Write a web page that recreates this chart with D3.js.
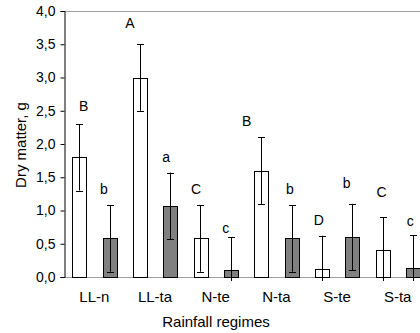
<!DOCTYPE html>
<html>
<head>
<meta charset="utf-8">
<script src="https://cdn.jsdelivr.net/npm/d3@7"></script>
<style>
  body { margin: 0; background: #fff; }
  svg { display: block; font-family: Arial, 'Liberation Sans', sans-serif; }
</style>
</head>
<body>
<div id="chart"></div>
<script>
const width = 420;
const height = 333;

// Values
const regimes = ['LL-n', 'LL-ta', 'N-te', 'N-ta', 'S-te', 'S-ta'];
const series = ['white', 'dark'];
const whiteValues = [1.8, 3.0, 0.58, 1.6, 0.12, 0.4];
const darkValues = [0.58, 1.07, 0.1, 0.58, 0.6, 0.13];
const whiteErrors = [0.5, 0.5, 0.5, 0.5, 0.5, 0.5];
const darkErrors = [0.5, 0.5, 0.5, 0.5, 0.5, 0.5];
const whiteLetters = ['B', 'A', 'C', 'B', 'D', 'C'];
const darkLetters = ['b', 'a', 'c', 'b', 'b', 'c'];
const yTicks = [0, 0.5, 1, 1.5, 2, 2.5, 3, 3.5, 4];

// Where each significance letter sits (data units) and its nudge off the bar centre
const whiteLetterAt = [2.5, 3.75, 1.25, 2.27, 0.78, 1.2];
const darkLetterAt = [1.25, 1.73, 0.66, 1.25, 1.34, 0.77];
const whiteLetterDx = [4.5, -10, -4.5, -14.5, -3, -1];
const darkLetterDx = [-5.5, -4, -5, -1.5, -5.5, -2.5];

const fills = { white: '#ffffff', dark: '#808080' };
const axisGray = '#a0a0a0';

const margin = { top: 11, left: 64, bottom: 277 };
const plotRight = 428; // plot area runs past the window edge

const x = d3.scaleBand().domain(regimes).range([margin.left, plotRight]);
const xSub = d3
  .scaleBand()
  .domain(series)
  .range([0, x.bandwidth()])
  .paddingInner(0.554)
  .paddingOuter(0.277);
const y = d3.scaleLinear().domain([0, 4]).range([margin.bottom, margin.top]);

const rows = [];
regimes.forEach((r, i) => {
  rows.push({ regime: r, s: 'white', v: whiteValues[i], e: whiteErrors[i],
    letter: whiteLetters[i], at: whiteLetterAt[i], dx: whiteLetterDx[i] });
  rows.push({ regime: r, s: 'dark', v: darkValues[i], e: darkErrors[i],
    letter: darkLetters[i], at: darkLetterAt[i], dx: darkLetterDx[i] });
});
const cx = (d) => x(d.regime) + xSub(d.s) + xSub.bandwidth() / 2;

const svg = d3
  .select('#chart')
  .append('svg')
  .attr('width', width)
  .attr('height', height);

// Clip error bars a few pixels under the baseline
svg
  .append('defs')
  .append('clipPath')
  .attr('id', 'plot-clip')
  .append('rect')
  .attr('x', margin.left)
  .attr('y', 0)
  .attr('width', plotRight - margin.left)
  .attr('height', margin.bottom + 4);

// Top border and baseline of the plot area
svg
  .append('line')
  .attr('x1', margin.left).attr('x2', plotRight)
  .attr('y1', y(4) + 0.5).attr('y2', y(4) + 0.5)
  .attr('stroke', axisGray);
svg
  .append('line')
  .attr('x1', margin.left).attr('x2', plotRight)
  .attr('y1', y(0) + 0.5).attr('y2', y(0) + 0.5)
  .attr('stroke', axisGray);

// Bars
svg
  .selectAll('.bar')
  .data(rows)
  .enter()
  .append('rect')
  .attr('class', 'bar')
  .attr('x', (d) => Math.round(x(d.regime) + xSub(d.s)) + 0.5)
  .attr('y', (d) => Math.round(y(d.v)) + 0.5)
  .attr('width', Math.round(xSub.bandwidth()))
  .attr('height', (d) => Math.round(y(0)) - Math.round(y(d.v)))
  .attr('fill', (d) => fills[d.s])
  .attr('stroke', '#000');

// Error bars
const err = svg
  .append('g')
  .attr('clip-path', 'url(#plot-clip)')
  .selectAll('.err')
  .data(rows)
  .enter()
  .append('g')
  .attr('class', 'err')
  .attr('stroke', '#000');

err
  .append('line')
  .attr('x1', (d) => Math.round(cx(d)) + 0.5)
  .attr('x2', (d) => Math.round(cx(d)) + 0.5)
  .attr('y1', (d) => y(d.v + d.e))
  .attr('y2', (d) => y(d.v - d.e));

[1, -1].forEach((sign) => {
  err
    .append('line')
    .attr('x1', (d) => Math.round(cx(d)) - 3)
    .attr('x2', (d) => Math.round(cx(d)) + 4)
    .attr('y1', (d) => Math.round(y(d.v + sign * d.e)) + 0.5)
    .attr('y2', (d) => Math.round(y(d.v + sign * d.e)) + 0.5);
});

// Significance letters
svg
  .selectAll('.letter')
  .data(rows)
  .enter()
  .append('text')
  .attr('class', 'letter')
  .attr('x', (d) => cx(d) + d.dx)
  .attr('y', (d) => y(d.at))
  .attr('text-anchor', 'middle')
  .style('font-size', '14px')
  .attr('fill', '#000')
  .text((d) => d.letter);

// Y axis
const fmt = (v) => d3.format('.1f')(v).replace('.', ',');
const yAxis = svg
  .append('g')
  .attr('transform', `translate(${margin.left + 0.5},0)`)
  .call(d3.axisLeft(y).tickValues(yTicks).tickFormat(fmt).tickSize(4).tickPadding(5));
yAxis.select('.domain').attr('stroke', '#000');
yAxis.selectAll('.tick line').attr('stroke', '#000');
yAxis
  .selectAll('.tick text')
  .attr('fill', '#000')
  .style('font-size', '14px')
  .style('font-family', 'Arial, "Liberation Sans", sans-serif');

// Category labels
svg
  .selectAll('.cat')
  .data(regimes)
  .enter()
  .append('text')
  .attr('class', 'cat')
  .attr('x', (d) => x(d) + x.bandwidth() / 2)
  .attr('y', 302)
  .attr('text-anchor', 'middle')
  .style('font-size', '15px')
  .text((d) => d);

// Axis titles
svg
  .append('text')
  .attr('x', 216)
  .attr('y', 327)
  .attr('text-anchor', 'middle')
  .style('font-size', '15px')
  .text('Rainfall regimes');

svg
  .append('text')
  .attr('transform', 'translate(26,145) rotate(-90)')
  .attr('text-anchor', 'middle')
  .style('font-size', '15px')
  .text('Dry matter, g');
</script>
</body>
</html>
